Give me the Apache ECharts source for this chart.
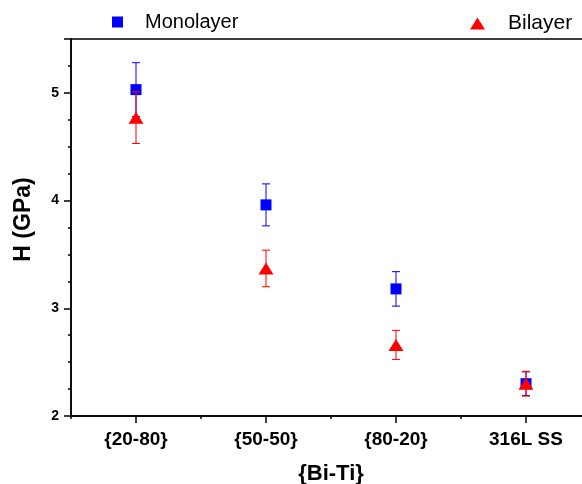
<!DOCTYPE html>
<html>
<head>
<meta charset="utf-8">
<script src="https://cdn.jsdelivr.net/npm/echarts@6/dist/echarts.min.js"></script>
<style>html,body{margin:0;padding:0;background:#fff}#c{width:582px;height:484px}</style>
</head>
<body>
<div id="c"></div>
<script>
const categories = ['{20-80}', '{50-50}', '{80-20}', '316L SS'];
const monoValues = [5.03, 3.96, 3.18, 2.30];
const monoErrors = [0.25, 0.195, 0.16, 0.11];
const biValues = [4.77, 3.37, 2.66, 2.30];
const biErrors = [0.24, 0.17, 0.135, 0.115];
const yTicks = [2, 3, 4, 5];

const FONT = '"Liberation Sans", Arial, sans-serif';
const catPos = categories.map((c, i) => i + 1);
const boundaryPos = categories.map((c, i) => i + 0.5);

function errData(vals, errs) {
  return vals.map((v, i) => [catPos[i], v, errs[i]]);
}
function errRender(color) {
  return function (params, api) {
    const x = api.value(0), y = api.value(1), e = api.value(2);
    const top = api.coord([x, y + e]);
    const bot = api.coord([x, y - e]);
    const hw = 4;
    const style = { stroke: color, lineWidth: 1, fill: null };
    return {
      type: 'group',
      children: [
        { type: 'line', shape: { x1: top[0], y1: top[1], x2: bot[0], y2: bot[1] }, style: style },
        { type: 'line', shape: { x1: top[0] - hw, y1: top[1], x2: top[0] + hw, y2: top[1] }, style: style },
        { type: 'line', shape: { x1: bot[0] - hw, y1: bot[1], x2: bot[0] + hw, y2: bot[1] }, style: style }
      ]
    };
  };
}

const chart = echarts.init(document.getElementById('c'), null, { renderer: 'canvas' });
const axisLineStyle = { color: '#000', width: 1.5 };
chart.setOption({
  animation: false,
  backgroundColor: '#fff',
  textStyle: { fontFamily: FONT },
  grid: {
    left: 71, top: 39, bottom: 68, right: -9,
    outerBoundsMode: 'none', containLabel: false,
    show: true, borderColor: '#000', borderWidth: 1.5, backgroundColor: 'transparent'
  },
  legend: [
    {
      data: [{ name: 'Monolayer', icon: 'rect' }],
      left: 112, top: 12, padding: 0, itemWidth: 11, itemHeight: 11,
      textStyle: { fontFamily: FONT, fontSize: 20, color: '#000', padding: [0, 0, 0, 17] }
    },
    {
      data: [{ name: 'Bilayer', icon: 'triangle' }],
      left: 470, top: 13, padding: 0, itemWidth: 15, itemHeight: 12,
      textStyle: { fontFamily: FONT, fontSize: 21, color: '#000', padding: [0, 0, 0, 18] }
    }
  ],
  xAxis: [
    {
      type: 'value', min: 0.5, max: 4.5, position: 'bottom',
      name: '{Bi-Ti}', nameLocation: 'middle', nameGap: 47,
      nameTextStyle: { fontFamily: FONT, fontSize: 22, fontWeight: 'bold', color: '#000' },
      axisLine: { lineStyle: axisLineStyle },
      axisTick: { show: true, customValues: catPos, length: 7, lineStyle: { color: '#000', width: 1.5 } },
      axisLabel: {
        customValues: catPos,
        fontFamily: FONT, fontSize: 19, fontWeight: 'bold', color: '#000', margin: 14,
        formatter: v => categories[Math.round(v) - 1] || ''
      },
      splitLine: { show: false }
    },
    {
      type: 'value', min: 0.5, max: 4.5, position: 'bottom',
      axisLine: { show: false },
      axisTick: { show: true, customValues: boundaryPos, length: 3, lineStyle: { color: '#000', width: 1.5 } },
      axisLabel: { show: false },
      splitLine: { show: false }
    }
  ],
  yAxis: [
    {
      type: 'value', min: 2, max: 5.5, interval: 0.25, position: 'left',
      axisLine: { show: true, lineStyle: axisLineStyle },
      axisTick: { show: true, length: 3, lineStyle: { color: '#000', width: 1.5 } },
      axisLabel: { show: false },
      splitLine: { show: false }
    },
    {
      type: 'value', min: 2, max: 5.5, interval: 1, position: 'left',
      name: 'H (GPa)', nameLocation: 'middle', nameGap: 36, nameRotate: 90,
      nameTextStyle: { fontFamily: FONT, fontSize: 23, fontWeight: 'bold', color: '#000', padding: [0, 0, 0, 16] },
      axisLine: { show: false },
      axisTick: { show: true, length: 7, lineStyle: { color: '#000', width: 1.5 } },
      axisLabel: {
        fontFamily: FONT, fontSize: 14, fontWeight: 'bold', color: '#000', margin: 12,
        formatter: v => (yTicks.indexOf(v) >= 0 ? String(v) : '')
      },
      splitLine: { show: false }
    }
  ],
  series: [
    {
      type: 'custom', name: 'monoErr', renderItem: errRender('#0000ff'),
      data: errData(monoValues, monoErrors), encode: { x: 0, y: 1 }, z: 2
    },
    {
      type: 'scatter', name: 'Monolayer', symbol: 'rect', symbolSize: 11,
      itemStyle: { color: '#0000ff', opacity: 1 },
      data: monoValues.map((v, i) => [catPos[i], v]), z: 3
    },
    {
      type: 'custom', name: 'biErr', renderItem: errRender('#ff0000'),
      data: errData(biValues, biErrors), encode: { x: 0, y: 1 }, z: 4
    },
    {
      type: 'scatter', name: 'Bilayer', symbol: 'triangle', symbolSize: [15, 12],
      itemStyle: { color: '#ff0000', opacity: 1 },
      data: biValues.map((v, i) => [catPos[i], v]), z: 5
    }
  ]
});
</script>
</body>
</html>
